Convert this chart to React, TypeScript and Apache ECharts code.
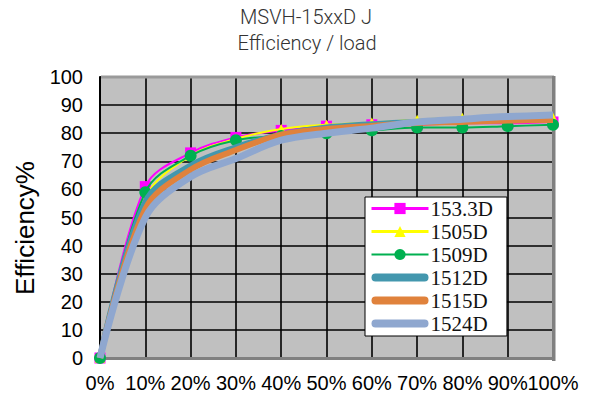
import React, { useEffect, useRef } from "react";
import * as echarts from "echarts";

const loadLabels = ["0%", "10%", "20%", "30%", "40%", "50%", "60%", "70%", "80%", "90%", "100%"];
const yTicks = [0, 10, 20, 30, 40, 50, 60, 70, 80, 90, 100];

const s1533D = [0, 61, 73, 78.5, 81, 82.5, 83, 83, 83.5, 83.5, 84];
const s1505D = [0, 57, 72, 78, 81.5, 83, 83.8, 84.8, 85.5, 85.5, 85.5];
const s1509D = [0, 59, 72, 77.5, 79, 80, 81, 82, 82, 82.5, 83];
const s1512D = [0, 55.5, 68.5, 75, 79.5, 82, 83.2, 84, 84.5, 85, 85.5];
const s1515D = [0, 53, 67, 74, 79.5, 81.5, 82.6, 83.6, 84, 84.5, 84.7];
const s1524D = [0, 50, 64.5, 71, 77.5, 80, 81.8, 84, 85, 85.9, 86.5];

const seriesNames = ["153.3D", "1505D", "1509D", "1512D", "1515D", "1524D"];
const seriesValues = [s1533D, s1505D, s1509D, s1512D, s1515D, s1524D];

const colors = ["#FF00FF", "#FFFF00", "#00B050", "#4397AE", "#E0823C", "#8FA7CF"];
const lineWidths = [2, 2, 2, 6, 6, 7];
const legendLineWidths = [3, 3, 2, 0, 0, 0];
const symbols = ["rect", "triangle", "circle", "none", "none", "none"];
const symbolSizes = [11, 10, 12, 0, 0, 0];

const thickIcon = "path://M4,0 H53 A4,4 0 0 1 53,8 H4 A4,4 0 0 1 4,0 Z";

export default function App() {
  const ref = useRef<HTMLDivElement>(null);
  useEffect(() => {
    document.body.style.margin = "0";
    if (!ref.current) return;
    const chart = echarts.init(ref.current, null, { renderer: "svg" });
    const series = seriesNames.map((name, i) => ({
      name,
      type: "line",
      smooth: 0.35,
      clip: false,
      z: 2 + i,
      data: seriesValues[i],
      symbol: symbols[i],
      symbolSize: symbolSizes[i],
      showSymbol: symbols[i] !== "none",
      itemStyle: { color: colors[i] },
      lineStyle: { color: colors[i], width: lineWidths[i] },
    }));
    chart.setOption({
      animation: false,
      grid: {
        left: 100,
        top: 77,
        right: 38,
        bottom: 42,
        show: true,
        backgroundColor: "#C0C0C0",
        borderWidth: 0,
      },
      xAxis: {
        type: "category",
        data: loadLabels,
        boundaryGap: false,
        axisLine: { show: true, onZero: false, lineStyle: { color: "#808080", width: 3 } },
        axisTick: { show: false },
        splitLine: { show: true, interval: 0, lineStyle: { color: "#000", width: 1.6 } },
        axisLabel: {
          interval: 0,
          color: "#000",
          fontSize: 20,
          fontFamily: "Liberation Sans, Arial",
          margin: 15,
        },
      },
      yAxis: {
        type: "value",
        min: 0,
        max: 100,
        interval: 10,
        axisLine: { show: true, lineStyle: { color: "#000", width: 2 } },
        axisTick: { show: false },
        splitLine: { show: true, lineStyle: { color: "#000", width: 1.6 } },
        axisLabel: {
          formatter: (v: number) => (yTicks.includes(v) ? String(v) : ""),
          color: "#000",
          fontSize: 20,
          fontFamily: "Liberation Sans, Arial",
          margin: 17,
        },
      },
      legend: {
        show: true,
        orient: "vertical",
        left: 365,
        top: 197,
        width: 146,
        padding: [1, 14, 2, 5],
        itemGap: 2,
        itemWidth: 57,
        itemHeight: 14,
        backgroundColor: "#fff",
        borderColor: "#000",
        borderWidth: 1,
        borderRadius: 0,
        textStyle: {
          color: "#111",
          fontSize: 21,
          fontFamily: "Liberation Serif, Times New Roman, serif",
          padding: [0, 0, 0, -3],
        },
        data: seriesNames.map((name, i) =>
          symbols[i] === "none"
            ? { name, icon: thickIcon, itemStyle: { color: colors[i] } }
            : { name, lineStyle: { width: legendLineWidths[i] } }
        ),
      },
      graphic: [
        {
          type: "text",
          x: 306,
          y: 17,
          style: {
            text: "MSVH-15xxD J",
            fill: "#333",
            font: "300 20px Roboto",
            textAlign: "center",
            textVerticalAlign: "middle",
          },
        },
        {
          type: "text",
          x: 307,
          y: 43,
          style: {
            text: "Efficiency / load",
            fill: "#333",
            font: "300 20px Roboto",
            textAlign: "center",
            textVerticalAlign: "middle",
          },
        },
        {
          type: "text",
          x: 25,
          y: 228,
          rotation: Math.PI / 2,
          style: {
            text: "Efficiency%",
            fill: "#000",
            font: "26px Liberation Sans, Arial",
            textAlign: "center",
            textVerticalAlign: "middle",
          },
        },
        {
          type: "rect",
          z: 1,
          shape: { x: 101, y: 75.5, width: 453, height: 3 },
          style: { fill: "#9a9a9a" },
        },
        {
          type: "rect",
          z: 1,
          shape: { x: 552, y: 76, width: 3.5, height: 285 },
          style: { fill: "#808080" },
        },
      ],
      series,
    });
    return () => chart.dispose();
  }, []);
  return <div ref={ref} style={{ width: 591, height: 400 }} />;
}
